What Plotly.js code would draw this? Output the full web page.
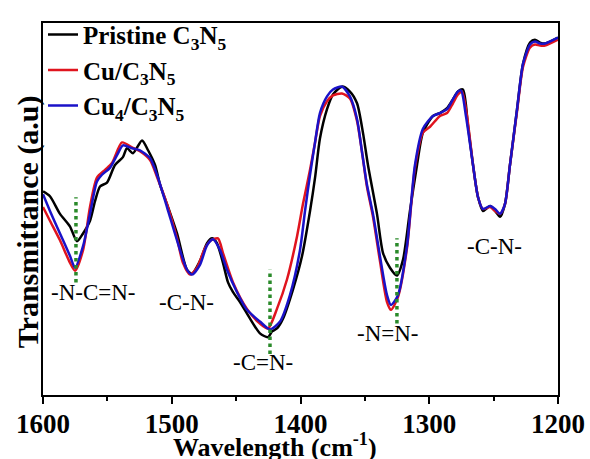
<!DOCTYPE html>
<html>
<head>
<meta charset="utf-8">
<script src="https://cdn.plot.ly/plotly-3.0.1.min.js"></script>
<style>html,body{margin:0;padding:0;background:#fff;}#chart{width:590px;height:459px;}</style>
</head>
<body>
<div id="chart"></div>
<script>
// Wavenumber (cm-1) and transmittance (a.u.)
const wPristine = [1600,1594.6,1586.8,1579.0,1573.6,1568.9,1563.5,1559.6,1555.7,1550.3,1544.1,1537.9,1534.8,1530.1,1523.1,1518.4,1513.0,1509.1,1503.7,1495.9,1488.2,1484.3,1478.1,1472.6,1468.7,1464.9,1460.2,1456.3,1452.4,1447.0,1439.2,1431.5,1425.2,1422.1,1418.3,1413.6,1405.8,1398.8,1392.6,1388.7,1384.9,1379.4,1374.8,1367.8,1361.6,1356.1,1351.5,1347.6,1340.6,1335.9,1330.5,1325.1,1320.4,1315.0,1309.5,1304.9,1297.1,1291.7,1286.2,1281.6,1277.7,1273.8,1269.9,1266.0,1262.1,1258.3,1252.8,1248.9,1245.0,1241.2,1237.3,1231.8,1227.2,1221.7,1217.9,1214.0,1210.1,1200];
const tPristine = [208,203,185,172,157,165,178,198,213,217,235,243,252,247,260,250,235,215,195,165,128,124,137,155,160,155,135,115,105,95,78,63,59,65,68,78,108,142,188,222,262,292,307,315,310,298,268,235,185,145,130,122,138,188,235,268,285,288,293,302,310,312,275,235,202,188,193,188,182,195,235,292,338,360,363,360,359,365];

const wCu = [1600,1594.6,1586.8,1579.0,1575.1,1568.9,1563.5,1558.1,1551.8,1546.4,1538.6,1530.9,1524.7,1516.9,1511.5,1503.7,1495.9,1491.3,1485.8,1480.4,1474.2,1469.5,1464.1,1460.2,1452.4,1441.6,1431.5,1425.2,1418.3,1410.5,1402.7,1398.1,1392.6,1388.7,1384.9,1379.4,1374.8,1367.8,1361.6,1356.1,1352.2,1348.4,1343.7,1338.3,1332.8,1329.7,1324.3,1317.3,1311.1,1304.9,1299.4,1291.7,1286.2,1281.6,1277.7,1274.6,1270.7,1266.0,1262.1,1258.3,1252.8,1248.9,1245.0,1241.2,1237.3,1231.8,1227.2,1221.7,1217.9,1214.0,1210.1,1200];
const tCu = [192,178,158,135,127,148,192,222,230,237,258,253,249,240,223,195,160,135,123,130,150,158,160,145,115,88,73,68,88,118,162,195,230,258,285,300,306,308,303,280,248,213,182,137,95,87,100,150,232,268,274,285,288,298,307,310,285,235,202,190,192,188,185,195,235,290,335,355,358,357,357,363];

const wCu4 = [1600,1594.6,1586.8,1579.0,1575.1,1568.9,1563.5,1558.1,1554.2,1548.0,1542.5,1537.9,1530.9,1524.7,1516.9,1511.5,1503.7,1495.9,1488.2,1484.3,1478.1,1472.6,1468.0,1462.5,1457.1,1449.3,1441.6,1431.5,1423.7,1415.9,1408.2,1400.4,1396.5,1392.6,1388.7,1384.9,1379.4,1374.8,1367.8,1361.6,1356.1,1352.2,1348.4,1343.7,1338.3,1332.8,1329.7,1324.3,1317.3,1311.1,1304.9,1297.1,1291.7,1286.2,1281.6,1277.7,1275.3,1271.5,1266.0,1262.1,1258.3,1252.8,1248.9,1245.0,1241.2,1237.3,1231.8,1227.2,1221.7,1217.9,1214.0,1210.1,1200];
const tCu4 = [205,188,165,142,130,152,185,218,225,232,245,255,252,250,242,225,192,158,128,123,133,153,159,148,128,105,87,75,67,75,102,148,188,225,258,288,305,312,315,305,282,248,215,185,142,102,92,102,152,235,272,285,288,292,302,310,311,285,235,202,190,193,190,185,195,235,292,338,358,361,359,359,365];

const seriesNames = ['Pristine C<sub>3</sub>N<sub>5</sub>', 'Cu/C<sub>3</sub>N<sub>5</sub>', 'Cu<sub>4</sub>/C<sub>3</sub>N<sub>5</sub>'];

// Marker positions (dotted guide lines) and band labels
const peakW = [1574.4, 1423.7, 1325.1];
const peakTop = [202, 128, 160];
const peakBottom = [115, 42, 73];
const bandLabels = ['-N-C=N-', '-C-N-', '-C=N-', '-N=N-', '-C-N-'];
const bandW = [1560.4, 1488.2, 1429.0, 1332.0, 1249.0];
const bandT = [105, 95, 33, 63, 152];

const xTicks = [1600, 1500, 1400, 1300, 1200];
const xTitle = 'Wavelength (cm<sup>-1</sup>)';
const yTitle = 'Transmittance (a.u)';

const colors = ['#000000', '#e0141e', '#1a12c8'];
const serif = '"Liberation Serif", "Times New Roman", serif';

const traces = [
  {x: wPristine, y: tPristine, name: seriesNames[0]},
  {x: wCu, y: tCu, name: seriesNames[1]},
  {x: wCu4, y: tCu4, name: seriesNames[2]}
].map((t, i) => Object.assign(t, {
  type: 'scatter', mode: 'lines',
  line: {color: colors[i], width: 2.5, shape: 'spline', smoothing: 0.7}
}));

peakW.forEach((w, i) => {
  traces.push({
    type: 'scatter', mode: 'lines', x: [w, w], y: [peakBottom[i], peakTop[i]],
    line: {color: '#2a8a2a', width: 3.5, dash: 'dot'}, showlegend: false, hoverinfo: 'skip'
  });
});

const annotations = bandLabels.map((txt, i) => ({
  x: bandW[i], y: bandT[i], xref: 'x', yref: 'y', text: txt, showarrow: false,
  font: {family: serif, size: 23, color: '#000'}
}));
annotations.push({
  x: 0.45, y: -0.137, xref: 'paper', yref: 'paper', xanchor: 'center', yanchor: 'middle',
  text: xTitle, showarrow: false,
  font: {family: serif, size: 26, color: '#000', weight: 'bold'}
});
annotations.push({
  x: -0.03, y: 0.466, xref: 'paper', yref: 'paper', xanchor: 'center', yanchor: 'middle',
  text: yTitle, showarrow: false, textangle: -90,
  font: {family: serif, size: 30, color: '#000', weight: 'bold'}
});

const layout = {
  width: 590, height: 459,
  margin: {l: 43, r: 32, t: 15, b: 64},
  paper_bgcolor: '#fff', plot_bgcolor: '#fff',
  showlegend: true,
  legend: {x: 0.0, y: 1.03, xanchor: 'left', yanchor: 'top', bgcolor: 'rgba(0,0,0,0)',
           font: {family: serif, size: 25, color: '#000', weight: 'bold'}, tracegroupgap: 0},
  xaxis: {
    range: [1600, 1200], tickvals: xTicks, ticktext: xTicks.map(String),
    ticks: 'outside', ticklen: 7, tickwidth: 2, tickcolor: '#000',
    ticklabelstandoff: -3,
    minor: {dtick: 50, ticks: 'outside', ticklen: 4, tickwidth: 2, tickcolor: '#000'},
    showline: true, linewidth: 2, linecolor: '#000', mirror: true,
    showgrid: false, zeroline: false,
    tickfont: {family: serif, size: 27, color: '#000', weight: 'bold'}
  },
  yaxis: {
    range: [0, 380], showticklabels: false, ticks: '',
    showline: true, linewidth: 2, linecolor: '#000', mirror: true,
    showgrid: false, zeroline: false
  },
  annotations: annotations
};

Plotly.newPlot('chart', traces, layout, {displayModeBar: false, staticPlot: true});
</script>
</body>
</html>
